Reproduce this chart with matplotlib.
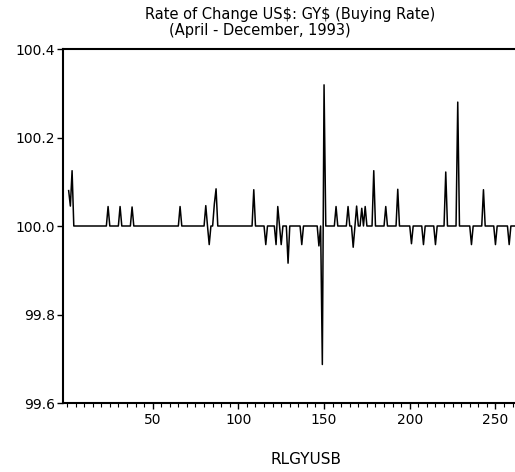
import numpy as np
import matplotlib
matplotlib.use("Agg")
import matplotlib.pyplot as plt
from matplotlib.ticker import MultipleLocator

# rate of change index, 100 = no change; only the days that moved are listed
n_days = 261
base_value = 100.0
spike_days = [1, 2, 3, 24, 31, 38, 66, 81, 83, 86, 87, 109, 116, 122, 123, 125,
              129, 137, 147, 149, 150, 157, 164, 167, 169, 172, 174, 179, 186,
              193, 201, 208, 215, 221, 228, 236, 243, 250, 258]
spike_values = [100.08, 100.045, 100.125, 100.044, 100.044, 100.043, 100.044,
                100.046, 99.958, 100.05, 100.084, 100.082, 99.958, 99.958,
                100.044, 99.958, 99.916, 99.958, 99.955, 99.687, 100.319,
                100.044, 100.044, 99.952, 100.045, 100.04, 100.044, 100.125,
                100.044, 100.083, 99.96, 99.958, 99.958, 100.122, 100.28,
                99.958, 100.082, 99.958, 99.958]

days = np.arange(1, n_days + 1)
rate = np.full(n_days, base_value)
rate[np.array(spike_days) - 1] = spike_values

plt.rcParams['font.family'] = ['DejaVu Sans']

fig = plt.figure(figsize=(5.15, 4.72), dpi=100)
ax = fig.add_axes([63/515, 1 - 403/472, 1 - 63/515, (403 - 49)/472])

ax.plot(days, rate, color='black', linewidth=1.1)

ax.set_xlim(-2.3, 261.4)
ax.set_ylim(99.6, 100.4)
ax.set_yticks([99.6, 99.8, 100.0, 100.2, 100.4])
ax.set_yticklabels(['99.6', '99.8', '100.0', '100.2', '100.4'])
ax.set_xticks([50, 100, 150, 200, 250])
ax.xaxis.set_minor_locator(MultipleLocator(5))

for side in ['left', 'bottom', 'top']:
    ax.spines[side].set_linewidth(1.5)
ax.spines['right'].set_visible(False)

ax.tick_params(axis='y', direction='out', length=4, width=1, pad=2, labelsize=10)
ax.tick_params(axis='x', which='major', direction='out', length=4, width=1, pad=3, labelsize=10)
ax.tick_params(axis='x', which='minor', direction='out', length=3, width=0.8)

fig.text(290/515, 1 - 14/472, 'Rate of Change US\\$: GY\\$ (Buying Rate)',
         ha='center', va='center', fontsize=10.5)
fig.text(260/515, 1 - 31/472, '(April - December, 1993)',
         ha='center', va='center', fontsize=10.5)
fig.text(306/515, 1 - 460/472, 'RLGYUSB', ha='center', va='center', fontsize=11)

fig.savefig('out.png', dpi=100)
